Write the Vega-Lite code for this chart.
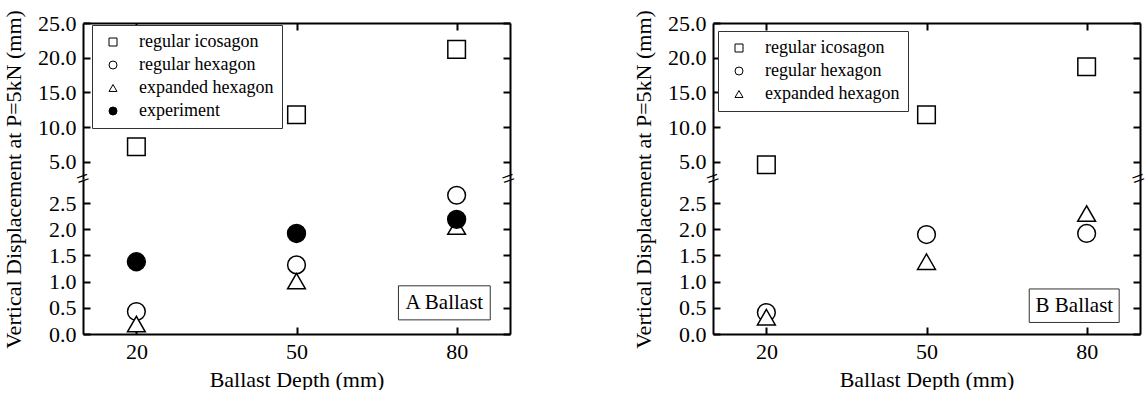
{
  "$schema": "https://vega.github.io/schema/vega-lite/v6.json",
  "background": "white",
  "padding": {"left": 1, "top": 9, "right": 0, "bottom": 0},
  "config": {
    "font": "Liberation Serif",
    "view": {"stroke": null},
    "text": {"font": "Liberation Serif"},
    "axis": {
      "domainColor": "black", "domainWidth": 2,
      "tickColor": "black", "tickWidth": 2, "tickSize": -7,
      "labelFont": "Liberation Serif", "labelFontSize": 22, "labelColor": "black",
      "labelPadding": 14, "labelFlush": false, "labelOverlap": false,
      "titleFont": "Liberation Serif", "titleFontSize": 22, "titleColor": "black", "titleFontWeight": "normal",
      "grid": false
    },
    "legend": {
      "orient": "none", "strokeColor": "#333", "fillColor": "white", "padding": 8,
      "labelFont": "Liberation Serif", "labelFontSize": 18, "labelColor": "black",
      "symbolSize": 64, "symbolStrokeWidth": 1,
      "rowPadding": 5, "labelOffset": 17, "symbolOffset": 4
    }
  },
  "datasets": {
    "pts": [
      {"ballast": "A", "model": "regular icosagon", "depth": 20, "disp": 7.2},
      {"ballast": "A", "model": "regular icosagon", "depth": 50, "disp": 11.8},
      {"ballast": "A", "model": "regular icosagon", "depth": 80, "disp": 21.2},
      {"ballast": "A", "model": "regular hexagon", "depth": 20, "disp": 0.43},
      {"ballast": "A", "model": "regular hexagon", "depth": 50, "disp": 1.32},
      {"ballast": "A", "model": "regular hexagon", "depth": 80, "disp": 2.65},
      {"ballast": "A", "model": "expanded hexagon", "depth": 20, "disp": 0.19},
      {"ballast": "A", "model": "expanded hexagon", "depth": 50, "disp": 1.01},
      {"ballast": "A", "model": "expanded hexagon", "depth": 80, "disp": 2.05},
      {"ballast": "A", "model": "experiment", "depth": 20, "disp": 1.38},
      {"ballast": "A", "model": "experiment", "depth": 50, "disp": 1.92},
      {"ballast": "A", "model": "experiment", "depth": 80, "disp": 2.19},
      {"ballast": "B", "model": "regular icosagon", "depth": 20, "disp": 4.6},
      {"ballast": "B", "model": "regular icosagon", "depth": 50, "disp": 11.8},
      {"ballast": "B", "model": "regular icosagon", "depth": 80, "disp": 18.7},
      {"ballast": "B", "model": "regular hexagon", "depth": 20, "disp": 0.41},
      {"ballast": "B", "model": "regular hexagon", "depth": 50, "disp": 1.90},
      {"ballast": "B", "model": "regular hexagon", "depth": 80, "disp": 1.92},
      {"ballast": "B", "model": "expanded hexagon", "depth": 20, "disp": 0.32},
      {"ballast": "B", "model": "expanded hexagon", "depth": 50, "disp": 1.38},
      {"ballast": "B", "model": "expanded hexagon", "depth": 80, "disp": 2.30}
    ]
  },
  "bounds": "flush",
  "columns": 2,
  "spacing": {"row": 0, "column": 203},
  "resolve": {
    "scale": {"shape": "independent", "fill": "independent", "stroke": "independent", "size": "independent"},
    "legend": {"shape": "independent", "fill": "independent", "stroke": "independent", "size": "independent"}
  },
  "concat": [
    {
      "width": 427, "height": 156,
      "resolve": {"axis": {"y": "independent"}},
      "layer": [
        {
          "data": {"name": "pts"},
          "transform": [{"filter": "datum.ballast === 'A' && datum.model === 'regular icosagon'"}],
          "mark": {"type": "point", "filled": true, "strokeWidth": 1.5, "size": 310, "opacity": 1},
          "encoding": {
            "x": {"field": "depth", "type": "quantitative", "scale": {"domain": [10, 90], "nice": false, "zero": false}, "axis": {"orient": "top", "values": [20, 50, 80], "labels": false, "title": null}},
            "y": {"field": "disp", "type": "quantitative", "scale": {"domain": [2.55, 25], "nice": false, "zero": false}, "axis": {"orient": "left", "values": [5, 10, 15, 20, 25], "format": ".1f", "title": null}},
            "shape": {"field": "model", "type": "nominal", "scale": {"domain": ["regular icosagon", "regular hexagon", "expanded hexagon", "experiment"], "range": ["square", "circle", "triangle-up", "circle"]}, "legend": {"title": null, "legendX": 9, "legendY": 2}},
            "fill": {"field": "model", "type": "nominal", "scale": {"domain": ["regular icosagon", "regular hexagon", "expanded hexagon", "experiment"], "range": ["white", "white", "white", "black"]}, "legend": {"title": null, "legendX": 9, "legendY": 2}},
            "stroke": {"field": "model", "type": "nominal", "scale": {"domain": ["regular icosagon", "regular hexagon", "expanded hexagon", "experiment"], "range": ["black", "black", "black", "black"]}, "legend": {"title": null, "legendX": 9, "legendY": 2}}
          }
        },
        {
          "data": {"name": "pts"},
          "transform": [{"filter": "datum.ballast === 'A' && datum.model === 'regular icosagon'"}],
          "mark": {"type": "point", "opacity": 0},
          "encoding": {
            "x": {"field": "depth", "type": "quantitative", "axis": {"orient": "top", "values": [20, 50, 80], "labels": false, "title": null}},
            "y": {"field": "disp", "type": "quantitative", "axis": {"orient": "right", "values": [5, 10, 15, 20, 25], "labels": false, "title": null}}
          }
        },
        {
          "data": {"values": [{"edge": "left", "pos": 10}, {"edge": "right", "pos": 89.7}]},
          "mark": {"type": "text", "text": "=", "angle": -20, "fontSize": 23, "align": "center", "baseline": "middle", "color": "black", "font": "Liberation Serif"},
          "encoding": {"x": {"field": "pos", "type": "quantitative", "axis": {"orient": "top", "values": [20, 50, 80], "labels": false, "title": null}}, "y": {"datum": 2.55, "type": "quantitative", "axis": null}}
        }
      ]
    },
    {
      "width": 427, "height": 156,
      "resolve": {"axis": {"y": "independent"}},
      "layer": [
        {
          "data": {"name": "pts"},
          "transform": [{"filter": "datum.ballast === 'B' && datum.model === 'regular icosagon'"}],
          "mark": {"type": "point", "filled": true, "strokeWidth": 1.5, "size": 310, "opacity": 1},
          "encoding": {
            "x": {"field": "depth", "type": "quantitative", "scale": {"domain": [10, 90], "nice": false, "zero": false}, "axis": {"orient": "top", "values": [20, 50, 80], "labels": false, "title": null}},
            "y": {"field": "disp", "type": "quantitative", "scale": {"domain": [2.55, 25], "nice": false, "zero": false}, "axis": {"orient": "left", "values": [5, 10, 15, 20, 25], "format": ".1f", "title": null}},
            "shape": {"field": "model", "type": "nominal", "scale": {"domain": ["regular icosagon", "regular hexagon", "expanded hexagon"], "range": ["square", "circle", "triangle-up"]}, "legend": {"title": null, "legendX": 5, "legendY": 8}},
            "fill": {"field": "model", "type": "nominal", "scale": {"domain": ["regular icosagon", "regular hexagon", "expanded hexagon"], "range": ["white", "white", "white"]}, "legend": {"title": null, "legendX": 5, "legendY": 8}},
            "stroke": {"field": "model", "type": "nominal", "scale": {"domain": ["regular icosagon", "regular hexagon", "expanded hexagon"], "range": ["black", "black", "black"]}, "legend": {"title": null, "legendX": 5, "legendY": 8}}
          }
        },
        {
          "data": {"name": "pts"},
          "transform": [{"filter": "datum.ballast === 'B' && datum.model === 'regular icosagon'"}],
          "mark": {"type": "point", "opacity": 0},
          "encoding": {
            "x": {"field": "depth", "type": "quantitative", "axis": {"orient": "top", "values": [20, 50, 80], "labels": false, "title": null}},
            "y": {"field": "disp", "type": "quantitative", "axis": {"orient": "right", "values": [5, 10, 15, 20, 25], "labels": false, "title": null}}
          }
        },
        {
          "data": {"values": [{"edge": "left", "pos": 10}, {"edge": "right", "pos": 89.7}]},
          "mark": {"type": "text", "text": "=", "angle": -20, "fontSize": 23, "align": "center", "baseline": "middle", "color": "black", "font": "Liberation Serif"},
          "encoding": {"x": {"field": "pos", "type": "quantitative", "axis": {"orient": "top", "values": [20, 50, 80], "labels": false, "title": null}}, "y": {"datum": 2.55, "type": "quantitative", "axis": null}}
        }
      ]
    },
    {
      "width": 427, "height": 155,
      "resolve": {"axis": {"y": "independent"}},
      "layer": [
        {
          "data": {"name": "pts"},
          "transform": [{"filter": "datum.ballast === 'A' && datum.model !== 'regular icosagon'"}],
          "mark": {"type": "point", "filled": true, "strokeWidth": 1.5, "opacity": 1},
          "encoding": {
            "x": {"field": "depth", "type": "quantitative", "scale": {"domain": [10, 90], "nice": false, "zero": false}, "axis": {"orient": "bottom", "values": [20, 50, 80], "title": "Ballast Depth (mm)", "titleBaseline": "alphabetic", "titleY": 52}},
            "y": {"field": "disp", "type": "quantitative", "scale": {"domain": [0, 2.96], "nice": false, "zero": false}, "axis": {"orient": "left", "values": [0, 0.5, 1, 1.5, 2, 2.5], "format": ".1f", "title": "Vertical Displacement at P=5kN (mm)", "titleBaseline": "alphabetic", "titleX": -63, "titleY": 0, "titleAngle": 270, "titleAlign": "center"}},
            "shape": {"field": "model", "type": "nominal", "scale": {"domain": ["regular icosagon", "regular hexagon", "expanded hexagon", "experiment"], "range": ["square", "circle", "triangle-up", "circle"]}, "legend": null},
            "fill": {"field": "model", "type": "nominal", "scale": {"domain": ["regular icosagon", "regular hexagon", "expanded hexagon", "experiment"], "range": ["white", "white", "white", "black"]}, "legend": null},
            "stroke": {"field": "model", "type": "nominal", "scale": {"domain": ["regular icosagon", "regular hexagon", "expanded hexagon", "experiment"], "range": ["black", "black", "black", "black"]}, "legend": null},
            "size": {"field": "model", "type": "nominal", "scale": {"domain": ["regular icosagon", "regular hexagon", "expanded hexagon", "experiment"], "range": [310, 320, 540, 350]}, "legend": null}
          }
        },
        {
          "data": {"name": "pts"},
          "transform": [{"filter": "datum.ballast === 'A' && datum.model !== 'regular icosagon'"}],
          "mark": {"type": "point", "opacity": 0},
          "encoding": {
            "x": {"field": "depth", "type": "quantitative", "axis": {"orient": "bottom", "values": [20, 50, 80], "title": "Ballast Depth (mm)", "titleBaseline": "alphabetic", "titleY": 52}},
            "y": {"field": "disp", "type": "quantitative", "axis": {"orient": "right", "values": [0, 0.5, 1, 1.5, 2, 2.5], "labels": false, "title": null}}
          }
        },
        {
          "data": {"values": [{"label": "A Ballast", "x1": 69.1, "x2": 86.3, "y1": 0.27, "y2": 0.92, "xc": 77.7, "yc": 0.59}]},
          "layer": [
            {
              "mark": {"type": "rect", "fill": "white", "stroke": "#333", "strokeWidth": 1},
              "encoding": {"x": {"field": "x1", "type": "quantitative", "axis": {"orient": "bottom", "values": [20, 50, 80], "title": "Ballast Depth (mm)", "titleBaseline": "alphabetic", "titleY": 52}}, "x2": {"field": "x2"}, "y": {"field": "y1", "type": "quantitative", "axis": null}, "y2": {"field": "y2"}}
            },
            {
              "mark": {"type": "text", "fontSize": 21, "align": "center", "baseline": "middle", "color": "black", "font": "Liberation Serif"},
              "encoding": {"text": {"field": "label"}, "x": {"field": "xc", "type": "quantitative", "axis": {"orient": "bottom", "values": [20, 50, 80], "title": "Ballast Depth (mm)", "titleBaseline": "alphabetic", "titleY": 52}}, "y": {"field": "yc", "type": "quantitative", "axis": null}}
            }
          ]
        }
      ]
    },
    {
      "width": 427, "height": 155,
      "resolve": {"axis": {"y": "independent"}},
      "layer": [
        {
          "data": {"name": "pts"},
          "transform": [{"filter": "datum.ballast === 'B' && datum.model !== 'regular icosagon'"}],
          "mark": {"type": "point", "filled": true, "strokeWidth": 1.5, "opacity": 1},
          "encoding": {
            "x": {"field": "depth", "type": "quantitative", "scale": {"domain": [10, 90], "nice": false, "zero": false}, "axis": {"orient": "bottom", "values": [20, 50, 80], "title": "Ballast Depth (mm)", "titleBaseline": "alphabetic", "titleY": 52}},
            "y": {"field": "disp", "type": "quantitative", "scale": {"domain": [0, 2.96], "nice": false, "zero": false}, "axis": {"orient": "left", "values": [0, 0.5, 1, 1.5, 2, 2.5], "format": ".1f", "title": "Vertical Displacement at P=5kN (mm)", "titleBaseline": "alphabetic", "titleX": -63, "titleY": 0, "titleAngle": 270, "titleAlign": "center"}},
            "shape": {"field": "model", "type": "nominal", "scale": {"domain": ["regular icosagon", "regular hexagon", "expanded hexagon"], "range": ["square", "circle", "triangle-up"]}, "legend": null},
            "fill": {"field": "model", "type": "nominal", "scale": {"domain": ["regular icosagon", "regular hexagon", "expanded hexagon"], "range": ["white", "white", "white"]}, "legend": null},
            "stroke": {"field": "model", "type": "nominal", "scale": {"domain": ["regular icosagon", "regular hexagon", "expanded hexagon"], "range": ["black", "black", "black"]}, "legend": null},
            "size": {"field": "model", "type": "nominal", "scale": {"domain": ["regular icosagon", "regular hexagon", "expanded hexagon"], "range": [310, 320, 540]}, "legend": null}
          }
        },
        {
          "data": {"name": "pts"},
          "transform": [{"filter": "datum.ballast === 'B' && datum.model !== 'regular icosagon'"}],
          "mark": {"type": "point", "opacity": 0},
          "encoding": {
            "x": {"field": "depth", "type": "quantitative", "axis": {"orient": "bottom", "values": [20, 50, 80], "title": "Ballast Depth (mm)", "titleBaseline": "alphabetic", "titleY": 52}},
            "y": {"field": "disp", "type": "quantitative", "axis": {"orient": "right", "values": [0, 0.5, 1, 1.5, 2, 2.5], "labels": false, "title": null}}
          }
        },
        {
          "data": {"values": [{"label": "B Ballast", "x1": 69.25, "x2": 86.1, "y1": 0.22, "y2": 0.86, "xc": 77.7, "yc": 0.54}]},
          "layer": [
            {
              "mark": {"type": "rect", "fill": "white", "stroke": "#333", "strokeWidth": 1},
              "encoding": {"x": {"field": "x1", "type": "quantitative", "axis": {"orient": "bottom", "values": [20, 50, 80], "title": "Ballast Depth (mm)", "titleBaseline": "alphabetic", "titleY": 52}}, "x2": {"field": "x2"}, "y": {"field": "y1", "type": "quantitative", "axis": null}, "y2": {"field": "y2"}}
            },
            {
              "mark": {"type": "text", "fontSize": 21, "align": "center", "baseline": "middle", "color": "black", "font": "Liberation Serif"},
              "encoding": {"text": {"field": "label"}, "x": {"field": "xc", "type": "quantitative", "axis": {"orient": "bottom", "values": [20, 50, 80], "title": "Ballast Depth (mm)", "titleBaseline": "alphabetic", "titleY": 52}}, "y": {"field": "yc", "type": "quantitative", "axis": null}}
            }
          ]
        }
      ]
    }
  ]
}
